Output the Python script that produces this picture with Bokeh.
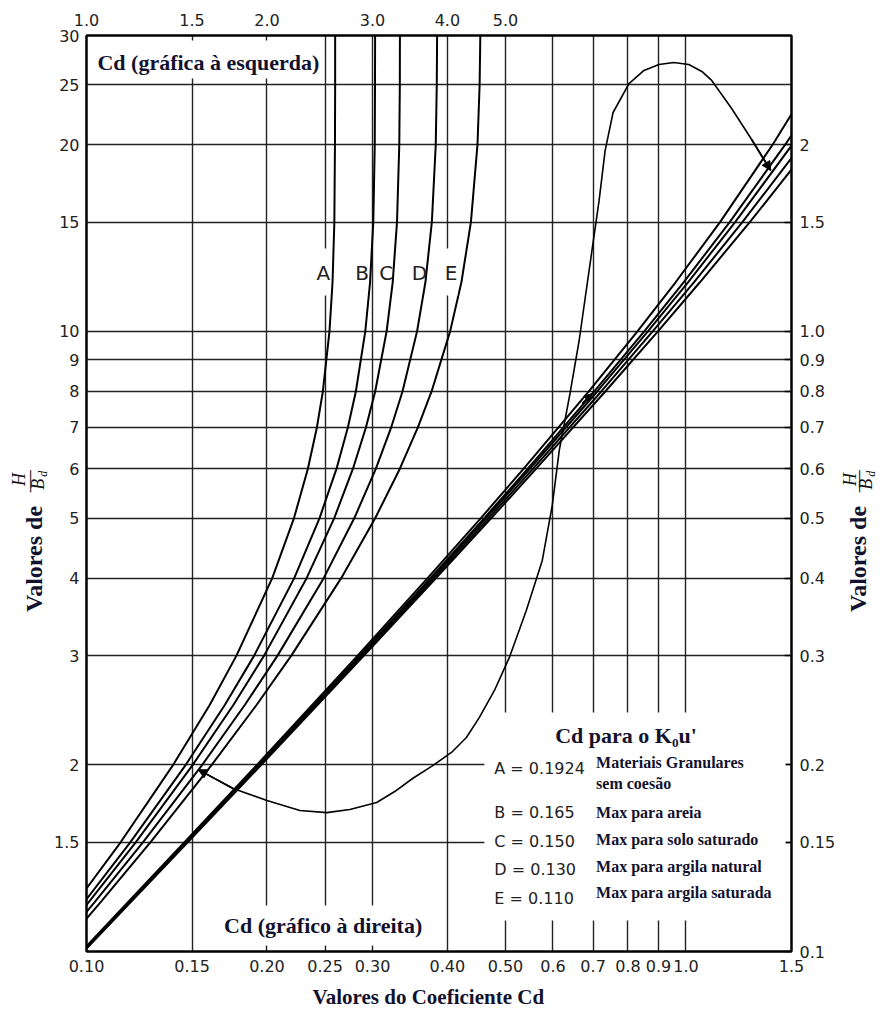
import math
from bokeh.plotting import figure
from bokeh.layouts import row, column
from bokeh.models import (Range1d, LogScale, LogAxis, FixedTicker, Label,
                          BoxAnnotation, Arrow, NormalHead)
from bokeh.core.properties import value
from bokeh.embed import file_html
from bokeh.resources import INLINE

# ---------------- data ----------------
# Left-hand chart: H/Bd (left axis) versus Cd (top axis)
hb_left = [1.0, 1.2, 1.5, 2.0, 2.5, 3.0, 4.0, 5.0, 6.0, 7.0, 8.0, 10.0, 12.0, 15.0, 20.0, 25.0, 30.0]
cd_left_A = [0.830, 0.961, 1.140, 1.395, 1.606, 1.779, 2.041, 2.219, 2.340, 2.423, 2.479, 2.543, 2.573, 2.591, 2.597, 2.599, 2.599]
cd_left_B = [0.852, 0.991, 1.183, 1.464, 1.702, 1.904, 2.221, 2.448, 2.612, 2.729, 2.814, 2.918, 2.972, 3.009, 3.026, 3.029, 3.030]
cd_left_C = [0.864, 1.008, 1.208, 1.504, 1.759, 1.978, 2.329, 2.590, 2.782, 2.925, 3.031, 3.167, 3.242, 3.296, 3.325, 3.332, 3.333]
cd_left_D = [0.880, 1.031, 1.242, 1.560, 1.838, 2.083, 2.487, 2.798, 3.038, 3.223, 3.366, 3.560, 3.676, 3.768, 3.825, 3.840, 3.845]
cd_left_E = [0.898, 1.055, 1.278, 1.618, 1.923, 2.196, 2.660, 3.032, 3.331, 3.571, 3.764, 4.042, 4.221, 4.378, 4.490, 4.527, 4.539]

# Right-hand chart: H/Bd (right axis) versus Cd (bottom axis)
hb_right = [0.1, 0.15, 0.2, 0.3, 0.4, 0.5, 0.6, 0.8, 1.0, 1.2, 1.5, 2.0, 2.3]
cd_right_A = [0.0981, 0.1457, 0.1925, 0.2833, 0.3707, 0.4549, 0.5358, 0.6886, 0.830, 0.961, 1.140, 1.395, 1.526]
cd_right_B = [0.0984, 0.1464, 0.1935, 0.2856, 0.3747, 0.4609, 0.5443, 0.7031, 0.852, 0.991, 1.183, 1.464, 1.612]
cd_right_C = [0.0985, 0.1467, 0.1941, 0.2869, 0.3769, 0.4643, 0.5491, 0.7112, 0.864, 1.008, 1.208, 1.504, 1.661]
cd_right_D = [0.0987, 0.1471, 0.1949, 0.2886, 0.3799, 0.4688, 0.5555, 0.7223, 0.880, 1.031, 1.242, 1.560, 1.731]
cd_right_E = [0.0989, 0.1475, 0.1957, 0.2903, 0.3829, 0.4735, 0.5621, 0.7335, 0.898, 1.055, 1.278, 1.618, 1.805]

curve_names = ["A", "B", "C", "D", "E"]
k_values = ["0.1924", "0.165", "0.150", "0.130", "0.110"]
k_descriptions = [["Materiais Granulares", "sem coesão"], ["Max para areia"],
                  ["Max para solo saturado"], ["Max para argila natural"],
                  ["Max para argila saturada"]]

# Connecting curve with arrows (bottom Cd, left H/Bd)
conn_cd = [0.1536, 0.1756, 0.2000, 0.2270, 0.2517, 0.2750, 0.3049, 0.3267, 0.3499, 0.3764,
           0.4063, 0.4303, 0.4523, 0.4792, 0.5075, 0.5416, 0.5759, 0.5984, 0.6147, 0.6411,
           0.6635, 0.6894, 0.7164, 0.7331, 0.7559, 0.8035, 0.8511, 0.9015, 0.9547, 1.011,
           1.063, 1.104, 1.192, 1.287, 1.385]
conn_hb = [1.965, 1.832, 1.752, 1.688, 1.675, 1.694, 1.739, 1.811, 1.901, 1.988,
           2.094, 2.214, 2.385, 2.636, 2.980, 3.548, 4.272, 5.240, 6.427, 7.970,
           9.667, 12.54, 16.26, 19.57, 22.54, 25.10, 26.35, 26.94, 27.14, 26.94,
           26.25, 25.39, 22.88, 20.39, 18.17]

bottom_ticks = [0.1, 0.15, 0.2, 0.25, 0.3, 0.4, 0.5, 0.6, 0.7, 0.8, 0.9, 1.0, 1.5]
bottom_labels = ["0.10", "0.15", "0.20", "0.25", "0.30", "0.40", "0.50", "0.6", "0.7", "0.8", "0.9", "1.0", "1.5"]
top_ticks = [1.0, 1.5, 2.0, 3.0, 4.0, 5.0]
top_labels = ["1.0", "1.5", "2.0", "3.0", "4.0", "5.0"]
left_ticks = [1.5, 2, 3, 4, 5, 6, 7, 8, 9, 10, 15, 20, 25, 30]
left_labels = ["1.5", "2", "3", "4", "5", "6", "7", "8", "9", "10", "15", "20", "25", "30"]
right_ticks = [0.1, 0.15, 0.2, 0.3, 0.4, 0.5, 0.6, 0.7, 0.8, 0.9, 1.0, 1.5, 2.0]
right_labels = ["0.1", "0.15", "0.2", "0.3", "0.4", "0.5", "0.6", "0.7", "0.8", "0.9", "1.0", "1.5", "2"]
grid_x = [0.15, 0.2, 0.25, 0.3, 0.4, 0.5, 0.6, 0.7, 0.8, 0.9, 1.0]
grid_y = [1.5, 2, 3, 4, 5, 6, 7, 8, 9, 10, 15, 20, 25]

# ---------------- layout ----------------
TOTAL_W, TOTAL_H = 878, 1015
LEFT_W, RIGHT_W = 50, 40
MAIN_W = TOTAL_W - LEFT_W - RIGHT_W
MAIN_H = 980
FX0, FY0, FW, FH = 86, 35, 707, 916      # frame in page pixels
SERIF = "Liberation Serif"
SANS = "DejaVu Sans"
NAVY = "#12122e"


def at(xp, yp):
    """page pixel -> (bottom Cd, left H/Bd) data coordinates"""
    x = 0.1 * 10 ** ((xp - FX0) / FW * math.log10(15))
    y = 10 ** ((FY0 + FH - yp) / FH * math.log10(30))
    return x, y


p = figure(width=MAIN_W, height=MAIN_H, x_axis_type="log", y_axis_type="log",
           x_range=Range1d(0.1, 1.5), y_range=Range1d(1, 30),
           output_backend="svg", toolbar_location=None, title=None,
           min_border_left=FX0 - LEFT_W, min_border_right=MAIN_W - (FX0 - LEFT_W) - FW,
           min_border_top=FY0, min_border_bottom=MAIN_H - FY0 - FH)
p.background_fill_color = "white"
p.border_fill_color = "white"
p.outline_line_color = "black"
p.outline_line_width = 2

bottom_ax = p.below[0]
left_ax = p.left[0]

p.extra_x_ranges = {"top": Range1d(1.0, 15.0)}
p.extra_x_scales = {"top": LogScale()}
p.extra_y_ranges = {"right": Range1d(0.1, 3.0)}
p.extra_y_scales = {"right": LogScale()}

top_ax = LogAxis(x_range_name="top")
right_ax = LogAxis(y_range_name="right")
p.add_layout(top_ax, "above")
p.add_layout(right_ax, "right")

axes = [(bottom_ax, bottom_ticks, bottom_labels, 8),
        (left_ax, left_ticks, left_labels, 7),
        (top_ax, top_ticks, top_labels, 10),
        (right_ax, right_ticks, right_labels, 8)]
for ax, ticks, labels, standoff in axes:
    ax.ticker = FixedTicker(ticks=ticks)
    ax.major_label_overrides = {t: l for t, l in zip(ticks, labels)}
    ax.major_label_text_font = SANS
    ax.major_label_text_font_size = "16px"
    ax.major_label_text_color = "#222"
    ax.major_label_standoff = standoff
    ax.major_tick_out = 0
    ax.major_tick_in = 0
    ax.minor_tick_line_color = None
    ax.axis_line_color = "black"
    ax.axis_line_width = 2
right_ax.major_tick_in = 7
right_ax.major_tick_line_width = 1.5

p.xgrid.ticker = FixedTicker(ticks=grid_x)
p.ygrid.ticker = FixedTicker(ticks=grid_y)
for g in (p.xgrid[0], p.ygrid[0]):
    g.grid_line_color = "#222"
    g.grid_line_width = 1.4
    g.grid_line_alpha = 1.0

# curves
for cd in (cd_left_A, cd_left_B, cd_left_C, cd_left_D, cd_left_E):
    p.line(cd, hb_left, x_range_name="top", line_color="black", line_width=2)
for cd in (cd_right_A, cd_right_B, cd_right_C, cd_right_D, cd_right_E):
    p.line(cd, hb_right, y_range_name="right", line_color="black", line_width=2)
p.line(conn_cd, conn_hb, line_color="black", line_width=1.6)


# white areas behind texts
def white_box(x0, y0, x1, y1):
    (l, t), (r, b) = at(x0, y0), at(x1, y1)
    p.add_layout(BoxAnnotation(left=l, right=r, top=t, bottom=b, fill_color="white",
                               fill_alpha=1.0, line_color=None, level="annotation"))


white_box(91, 40, 322, 78)       # top-left title
white_box(220, 905, 432, 945)    # bottom title
white_box(485, 712, 787, 920)    # legend area
white_box(319, 248, 330, 295)    # gap for A
white_box(446, 248, 458, 295)    # gap for E


# arrow heads
def head(x0, y0, x1, y1, size=9):
    p.add_layout(Arrow(end=NormalHead(size=size, fill_color="black", line_color="black"),
                       x_start=x0, y_start=y0, x_end=x1, y_end=y1,
                       line_color="black", line_width=1.6))


head(conn_cd[1], conn_hb[1], conn_cd[0], conn_hb[0])
head(conn_cd[-2], conn_hb[-2], conn_cd[-1], conn_hb[-1])
(ax0, ay0), (ax1, ay1) = at(583, 403), at(593, 393)
head(ax0, ay0, ax1, ay1, size=8)


def label(xp, yp, text, font=SERIF, size=22, style="bold", color=NAVY,
          align="left", baseline="middle", angle=0.0):
    x, y = at(xp, yp)
    p.add_layout(Label(x=x, y=y, text=text, text_font=font, text_font_size=f"{size}px",
                       text_font_style=style, text_color=color, text_align=align,
                       text_baseline=baseline, angle=angle))


label(97, 62, "Cd (gráfica à esquerda)")
label(224, 925, "Cd (gráfico à direita)")
label(556, 735, "Cd para o K\u2080u'")

row_y = [768, 812, 841, 869, 898]
desc_y = [762, 812, 839, 866, 892]
for name, kv, desc, ry, dy in zip(curve_names, k_values, k_descriptions, row_y, desc_y):
    label(495, ry, f"{name} = {kv}", font=SANS, size=16, style="normal", color="#222")
    for i, line in enumerate(desc):
        label(597, dy + 21 * i, line, size=16, style="bold")

for name, xp in zip(curve_names, [323.5, 362.5, 386.5, 420, 451.5]):
    label(xp, 272, name, font=SANS, size=20, style="normal", color="#222", align="center")


# ---------------- side text panels ----------------
def text_fig(width, height, x0, y_top):
    f = figure(width=width, height=height, x_range=Range1d(x0, x0 + width),
               y_range=Range1d(-(y_top + height), -y_top),
               output_backend="svg", toolbar_location=None, title=None, min_border=0,
               x_axis_location=None, y_axis_location=None, outline_line_color=None)
    f.grid.visible = False
    f.background_fill_color = "white"
    f.border_fill_color = "white"
    return f


def ftext(f, xp, yp, text, size, style="bold", color=NAVY, angle=0.0, align="center"):
    f.text(x=[xp], y=[-yp], text=[text], angle=angle, text_font=value(SERIF),
           text_font_size=f"{size}px", text_font_style=style, text_color=color,
           text_align=align, text_baseline="middle")


lf = text_fig(LEFT_W, MAIN_H, 0, 0)
rf = text_fig(RIGHT_W, MAIN_H, LEFT_W + MAIN_W, 0)
for f, cx, hx, bx in [(lf, 33, 18, 37), (rf, 857, 849, 865)]:
    ftext(f, cx, 560, "Valores de", 24, angle=math.pi / 2)
    ftext(f, hx, 475, "H", 18, style="italic", color="#111", angle=math.pi / 2)
    ftext(f, (hx + bx) / 2, 477, "\u2014", 22, style="normal", color="#111", angle=math.pi / 2)
    ftext(f, bx, 480, "B", 18, style="italic", color="#111", angle=math.pi / 2)
    ftext(f, bx + 5, 469, "d", 12, style="italic", color="#111", angle=math.pi / 2)

bf = text_fig(TOTAL_W, TOTAL_H - MAIN_H, 0, MAIN_H)
ftext(bf, 312, 996, "Valores do Coeficiente Cd", 21, align="left")

layout = column(row(lf, p, rf, spacing=0), bf, spacing=0)
open("out.html", "w").write(file_html(layout, INLINE))
